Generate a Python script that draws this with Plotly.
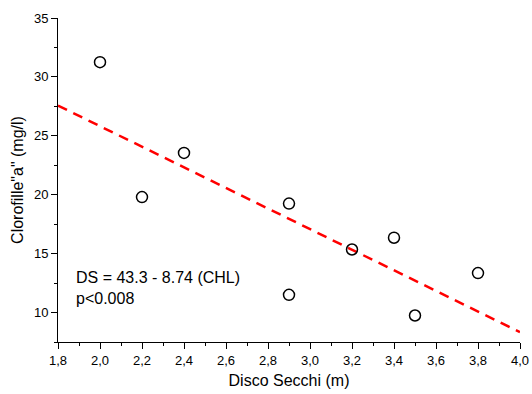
import plotly.graph_objects as go
import numpy as np

secchi = [2.0, 2.2, 2.4, 2.9, 2.9, 3.2, 3.4, 3.5, 3.8]
clorofilla = [31.25, 19.8, 23.55, 19.25, 11.5, 15.35, 16.35, 9.75, 13.35]
fit_intercept = 43.3
fit_slope = -8.74
fit_x = [1.8, 4.0]
fit_y = [fit_intercept + fit_slope * x for x in fit_x]

font = "Liberation Sans, Arial, sans-serif"

fig = go.Figure()
fig.add_trace(go.Scatter(
    x=fit_x, y=fit_y, mode="lines",
    line=dict(color="#ff0000", width=2.5, dash="10px,7px"),
    showlegend=False, hoverinfo="skip"))
fig.add_trace(go.Scatter(
    x=secchi, y=clorofilla, mode="markers",
    marker=dict(symbol="circle-open", size=11, color="black", line=dict(width=1.5, color="black")),
    showlegend=False))

fig.add_annotation(x=0.034, y=0.232, xref="paper", yref="paper", xanchor="left", yanchor="top",
                   text="DS = 43.3 - 8.74 (CHL)<br>p<0.008", showarrow=False, align="left",
                   font=dict(family=font, size=16, color="black"))

fig.update_layout(
    width=532, height=394,
    margin=dict(l=58, r=12, t=18, b=52),
    paper_bgcolor="white", plot_bgcolor="white",
    separators=",.",
    font=dict(family=font, color="black"),
    xaxis=dict(range=[1.8, 4.0], tickvals=[1.8, 2.0, 2.2, 2.4, 2.6, 2.8, 3.0, 3.2, 3.4, 3.6, 3.8, 4.0],
               tickformat=".1f", showgrid=False, zeroline=False, showline=True, linecolor="black",
               linewidth=1, ticks="outside", ticklen=6, tickcolor="black", automargin=False,
               tickfont=dict(size=13, family=font),
               minor=dict(dtick=0.1, ticks="outside", ticklen=3, tickcolor="black", tick0=1.8),
               title=dict(text="Disco Secchi (m)", font=dict(size=16, family=font), standoff=8)),
    yaxis=dict(range=[7.5, 35], tickvals=[10, 15, 20, 25, 30, 35], showgrid=False, zeroline=False,
               showline=True, linecolor="black", linewidth=1, ticks="outside", ticklen=6,
               tickcolor="black", tickfont=dict(size=13, family=font), automargin=False,
               minor=dict(dtick=2.5, tick0=7.5, ticks="outside", ticklen=3, tickcolor="black"),
               title=dict(text='Clorofille"a" (mg/l)', font=dict(size=16, family=font), standoff=6)),
)

fig.write_html("out.html")
